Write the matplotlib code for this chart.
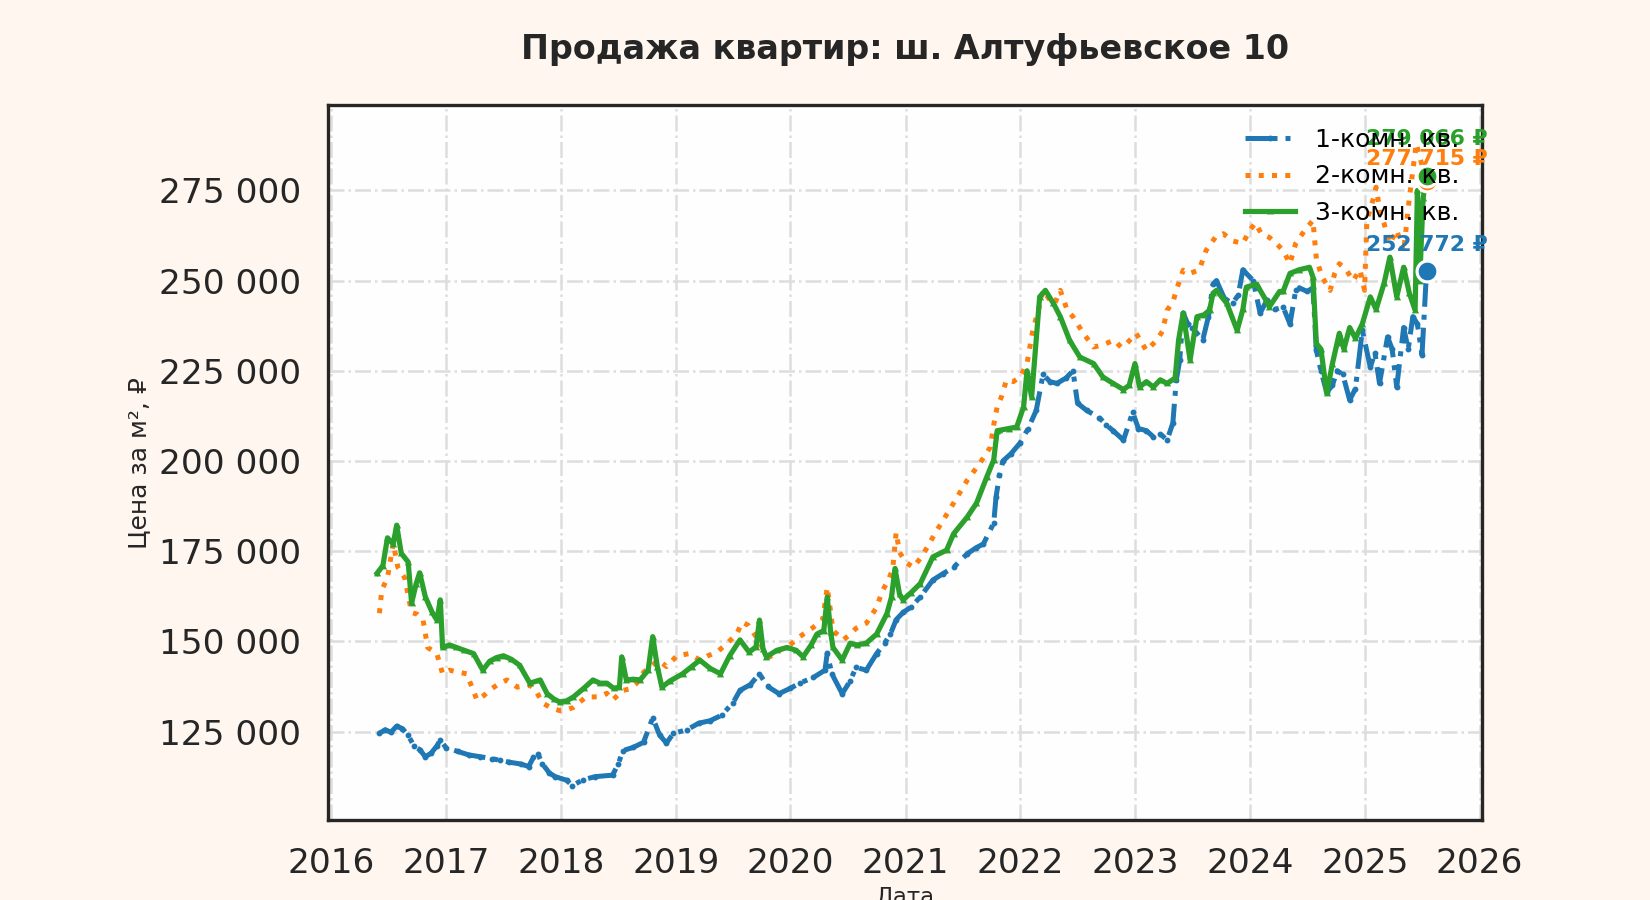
# График цены квадратного метра по типам квартир
import numpy as np
import pandas as pd
import matplotlib
matplotlib.use("Agg")
import matplotlib.pyplot as plt
import matplotlib.dates as mdates
from matplotlib.ticker import FuncFormatter

# данные (годы в долях года, цены в тыс. руб за м2)
years_1k = [2016.42, 2016.47, 2016.52, 2016.57, 2016.62, 2016.67, 2016.72, 2016.77, 2016.82, 2016.87,
            2016.92, 2016.95, 2017.0, 2017.1, 2017.2, 2017.3, 2017.4, 2017.47, 2017.55, 2017.65,
            2017.72, 2017.76, 2017.8, 2017.84, 2017.9, 2017.95, 2018.05, 2018.1, 2018.19, 2018.3,
            2018.45, 2018.5, 2018.54, 2018.63, 2018.72, 2018.8, 2018.86, 2018.92, 2018.98, 2019.1,
            2019.2, 2019.3, 2019.4, 2019.5, 2019.56, 2019.65, 2019.73, 2019.8, 2019.9, 2020.0,
            2020.08, 2020.2, 2020.3, 2020.32, 2020.36, 2020.45, 2020.52, 2020.57, 2020.66, 2020.75,
            2020.82, 2020.87, 2020.92, 2020.98, 2021.05, 2021.13, 2021.24, 2021.33, 2021.42, 2021.54,
            2021.62, 2021.68, 2021.77, 2021.79, 2021.82, 2021.85, 2021.92, 2022.0, 2022.07, 2022.14,
            2022.2, 2022.26, 2022.32, 2022.4, 2022.46, 2022.5, 2022.58, 2022.69, 2022.75, 2022.81,
            2022.9, 2022.98, 2023.03, 2023.1, 2023.16, 2023.22, 2023.28, 2023.33, 2023.36, 2023.39,
            2023.42, 2023.46, 2023.5, 2023.59, 2023.64, 2023.68, 2023.71, 2023.78, 2023.85, 2023.9,
            2023.94, 2024.03, 2024.09, 2024.15, 2024.22, 2024.29, 2024.35, 2024.4, 2024.43, 2024.5,
            2024.55, 2024.58, 2024.62, 2024.67, 2024.72, 2024.76, 2024.81, 2024.87, 2024.92, 2024.98,
            2025.05, 2025.09, 2025.13, 2025.2, 2025.24, 2025.28, 2025.34, 2025.38, 2025.42, 2025.46,
            2025.5, 2025.54]
price_1k = [124.5, 125.5, 124.8, 126.5, 125.8, 124, 121, 120, 118, 119,
            121, 122.7, 120.5, 119.5, 118.5, 118, 117.5, 117, 116.5, 116,
            115.3, 117.8, 118.8, 116, 113.5, 112.5, 111.5, 110, 111.6, 112.5,
            112.9, 116, 119.7, 120.6, 122, 128.8, 124, 121.8, 124.5, 125.5,
            127.3, 128, 129.5, 133, 136.4, 138, 141, 137.5, 135.5, 137,
            138.4, 140, 142, 146.7, 141, 135.5, 139, 142.8, 142, 146.6,
            149.5, 152, 156, 158, 159.5, 162.3, 167, 168.8, 170.5, 174.3,
            176, 177, 182.8, 190, 196, 200, 202, 205, 209, 214,
            224, 222, 221.5, 223, 225, 216, 214, 212, 210, 208.4,
            205.8, 213.5, 209, 208.4, 206.7, 207.5, 205.8, 210.5, 222.4, 228,
            241, 238, 237, 233.5, 240, 249, 250, 245, 243.7, 246,
            253, 250, 241, 244.6, 242, 242.7, 238, 247.3, 248, 247,
            248, 230.7, 225, 219, 221, 225, 224, 216.9, 220, 236.2,
            226, 230, 221.5, 234.4, 231, 220.5, 237, 231, 240, 238,
            229.4, 252.772]

years_2k = [2016.42, 2016.44, 2016.49, 2016.54, 2016.58, 2016.64, 2016.7, 2016.75, 2016.8, 2016.84,
            2016.92, 2016.97, 2017.03, 2017.1, 2017.18, 2017.27, 2017.33, 2017.38, 2017.45, 2017.53,
            2017.62, 2017.73, 2017.78, 2017.84, 2017.92, 2017.99, 2018.05, 2018.11, 2018.22, 2018.33,
            2018.4, 2018.45, 2018.54, 2018.6, 2018.66, 2018.72, 2018.85, 2018.92, 2019.01, 2019.12,
            2019.21, 2019.28, 2019.36, 2019.45, 2019.53, 2019.58, 2019.63, 2019.7, 2019.76, 2019.82,
            2019.9, 2019.97, 2020.08, 2020.2, 2020.28, 2020.32, 2020.35, 2020.37, 2020.46, 2020.52,
            2020.57, 2020.66, 2020.75, 2020.8, 2020.85, 2020.89, 2020.92, 2020.95, 2021.0, 2021.07,
            2021.13, 2021.19, 2021.26, 2021.33, 2021.42, 2021.48, 2021.54, 2021.65, 2021.74, 2021.77,
            2021.8, 2021.84, 2021.88, 2021.94, 2022.0, 2022.06, 2022.11, 2022.16, 2022.2, 2022.25,
            2022.3, 2022.35, 2022.41, 2022.46, 2022.55, 2022.64, 2022.7, 2022.75, 2022.82, 2022.88,
            2022.93, 2023.01, 2023.1, 2023.19, 2023.24, 2023.28, 2023.33, 2023.36, 2023.42, 2023.48,
            2023.56, 2023.62, 2023.7, 2023.77, 2023.85, 2023.94, 2024.0, 2024.05, 2024.1, 2024.17,
            2024.24, 2024.29, 2024.35, 2024.4, 2024.48, 2024.55, 2024.58, 2024.63, 2024.7, 2024.74,
            2024.78, 2024.84, 2024.9, 2024.96, 2025.0, 2025.02, 2025.07, 2025.1, 2025.14, 2025.17,
            2025.22, 2025.28, 2025.34, 2025.39, 2025.45, 2025.5, 2025.54]
price_2k = [157.8, 164.2, 167.6, 177.2, 170.6, 167.6, 158, 157.5, 155.9, 148.3,
            146.6, 141, 142, 141.5, 141, 133.7, 135, 136.5, 138, 139.3,
            137.3, 137.8, 136.5, 132.9, 131.5, 130.8, 131, 131.7, 134.6, 134.6,
            135.6, 133.7, 136.4, 136.8, 138.4, 141.4, 144.8, 143, 146, 146.6,
            144.8, 146, 147, 149.5, 152, 155.3, 154.5, 151.3, 148, 145.7,
            147.5, 148.3, 151.3, 153.9, 156, 165, 158, 153, 150.4, 152,
            153.6, 155, 159.4, 164, 166.8, 170, 180.2, 174.7, 172, 170.5,
            173, 176, 180, 183.6, 188.3, 191.5, 194.7, 199.4, 203.8, 210,
            215, 218, 222.4, 222, 223.3, 227, 236.2, 242, 247.3, 245,
            243.5, 247.3, 241.8, 240, 235.4, 231.6, 232, 232.6, 233.5, 231.5,
            232.6, 235.4, 230.6, 233.5, 236, 241.8, 244, 247.3, 252.9, 252,
            253, 258.4, 262, 263, 261, 260.3, 264, 266, 263, 262,
            260, 258.4, 254.7, 260.3, 264, 266.7, 256, 251, 247.3, 252,
            254.7, 253, 250, 253, 247.3, 266.7, 272, 275.9, 268, 265.8,
            260.3, 264, 258, 273, 288, 282, 277.715]

years_3k = [2016.40, 2016.45, 2016.49, 2016.54, 2016.57, 2016.61, 2016.67, 2016.70, 2016.74, 2016.77,
            2016.82, 2016.88, 2016.92, 2016.95, 2016.97, 2017.03, 2017.09, 2017.16, 2017.24, 2017.32,
            2017.38, 2017.44, 2017.5, 2017.57, 2017.64, 2017.73, 2017.82, 2017.88, 2017.94, 2017.99,
            2018.05, 2018.11, 2018.2, 2018.28, 2018.34, 2018.4, 2018.46, 2018.51, 2018.53, 2018.57,
            2018.63, 2018.69, 2018.76, 2018.8, 2018.84, 2018.88, 2018.95, 2019.06, 2019.14, 2019.21,
            2019.3, 2019.39, 2019.47, 2019.56, 2019.64, 2019.7, 2019.73, 2019.76, 2019.79, 2019.88,
            2019.97, 2020.05, 2020.11, 2020.18, 2020.23, 2020.29, 2020.32, 2020.35, 2020.37, 2020.45,
            2020.52, 2020.58, 2020.66, 2020.75, 2020.84, 2020.88, 2020.91, 2020.95, 2020.98, 2021.05,
            2021.13, 2021.24, 2021.36, 2021.42, 2021.54, 2021.62, 2021.71, 2021.77, 2021.8, 2021.82,
            2021.9, 2021.97, 2022.03, 2022.06, 2022.1, 2022.17, 2022.22, 2022.29, 2022.35, 2022.43,
            2022.52, 2022.64, 2022.72, 2022.81, 2022.9, 2022.95, 2023.0, 2023.04, 2023.1, 2023.16,
            2023.22, 2023.28, 2023.35, 2023.38, 2023.42, 2023.48, 2023.54, 2023.6, 2023.65, 2023.68,
            2023.71, 2023.8, 2023.89, 2023.94, 2023.97, 2024.06, 2024.14, 2024.17, 2024.26, 2024.29,
            2024.35, 2024.43, 2024.52, 2024.55, 2024.58, 2024.62, 2024.67, 2024.72, 2024.76, 2024.78,
            2024.82, 2024.87, 2024.92, 2024.98, 2025.05, 2025.1, 2025.17, 2025.22, 2025.28, 2025.34,
            2025.39, 2025.44, 2025.46, 2025.48, 2025.51, 2025.54]
price_3k = [168.9, 171, 178.7, 177, 182.2, 174.4, 172, 160.6, 166, 169,
            162.3, 158, 155.9, 161.5, 148.3, 149, 148.3, 147.5, 146.6, 142,
            144.5, 145.5, 146, 145, 143.4, 138.4, 139.3, 135.5, 134, 133.2,
            133.5, 134.6, 137, 139.3, 138.4, 138.4, 137, 137.3, 145.7, 139.3,
            139.5, 139.3, 142, 151.3, 143, 137.3, 139, 141, 143, 144.8,
            142.5, 141, 146, 150.4, 147, 148.5, 155.9, 148, 145.7, 147.5,
            148.3, 147.5, 145.7, 149, 152, 153, 162.3, 152.5, 148.3, 144.8,
            149.5, 149, 149.5, 152, 157.7, 162.3, 170.2, 163, 161.5, 163.5,
            166, 173.4, 175.3, 179.8, 184.5, 188.3, 195.6, 200.3, 208.4, 208.5,
            209, 209.4, 215, 225, 217.7, 245.5, 247.3, 243.7, 240, 233.5,
            228.8, 227, 223.3, 221.5, 219.8, 221, 227, 220.5, 222, 220.5,
            222.5, 221.5, 223, 233.5, 241, 228, 240, 240.5, 241.8, 246.5,
            247.3, 243.7, 236.2, 242, 248.2, 249, 244.6, 242.7, 247, 247,
            252, 253, 253.7, 251, 232.6, 231, 218.8, 227, 232.6, 235.4,
            231, 237, 234, 238, 245.5, 242, 249.3, 256.5, 245.5, 253.7,
            246.5, 241.8, 275, 250, 273, 279.066]

labels = ["1-комн. кв.", "2-комн. кв.", "3-комн. кв."]
colors = ["#1f77b4", "#ff7f0e", "#2ca02c"]


def to_dates(yrs):
    # перевод доли года в дату
    start = pd.Timestamp("2016-01-01")
    return start + pd.to_timedelta((np.array(yrs) - 2016) * 365.25, unit="D")


series = [(years_1k, price_1k), (years_2k, price_2k), (years_3k, price_3k)]
styles = [dict(ls="-.", lw=2.4, marker="o", ms=1.8),
          dict(ls=":", lw=2.4),
          dict(ls="-", lw=2.5, marker="^", ms=1.8)]
offsets = [12.5, 10.5, 17.5]

fig = plt.figure(figsize=(11, 6), dpi=150, facecolor="#fff7ef")
ax = fig.add_axes([0.199, 0.089, 0.699, 0.794])
ax.set_facecolor("#fefefe")

for (yrs, vals), lab, c, st in zip(series, labels, colors, styles):
    ax.plot(to_dates(yrs), np.array(vals) * 1000, color=c, label=lab, **st)

# последние значения
for (yrs, vals), c, dy in zip(series, colors, offsets):
    d = to_dates(yrs)[-1]
    v = vals[-1] * 1000
    ax.plot(d, v, "o", color=c, ms=10, mec="white", mew=1.5, zorder=5)
    ax.annotate(f"{v:,.0f} ₽".replace(",", " "), (d, v), xytext=(0, dy),
                textcoords="offset points", ha="center", va="center",
                fontsize=10.5, fontweight="bold", color=c, zorder=4)

ax.set_xlim(to_dates([2015.975])[0], to_dates([2026.02])[0])
ax.set_ylim(100500, 298600)

ax.set_title("Продажа квартир: ш. Алтуфьевское 10", fontsize=16,
             fontweight="bold", color="#262626", pad=22)
ax.set_ylabel("Цена за м², ₽", fontsize=12, color="#262626")
ax.set_xlabel("Дата", fontsize=11, color="#262626", labelpad=3)

ax.xaxis.set_major_locator(mdates.YearLocator())
ax.xaxis.set_major_formatter(mdates.DateFormatter("%Y"))
ax.yaxis.set_major_formatter(FuncFormatter(lambda x, p: f"{x:,.0f}".replace(",", " ")))
ax.tick_params(axis="both", length=0, pad=13, labelsize=16.5, labelcolor="#262626")

ax.grid(True, ls="-.", lw=1.2, color="#dddddd")
ax.set_axisbelow(True)
for s in ax.spines.values():
    s.set_color("#262626")
    s.set_linewidth(1.6)

leg = ax.legend(loc="upper right", fontsize=12, frameon=False)
leg.set_zorder(6)

fig.savefig("out.png", dpi=150, facecolor=fig.get_facecolor())
